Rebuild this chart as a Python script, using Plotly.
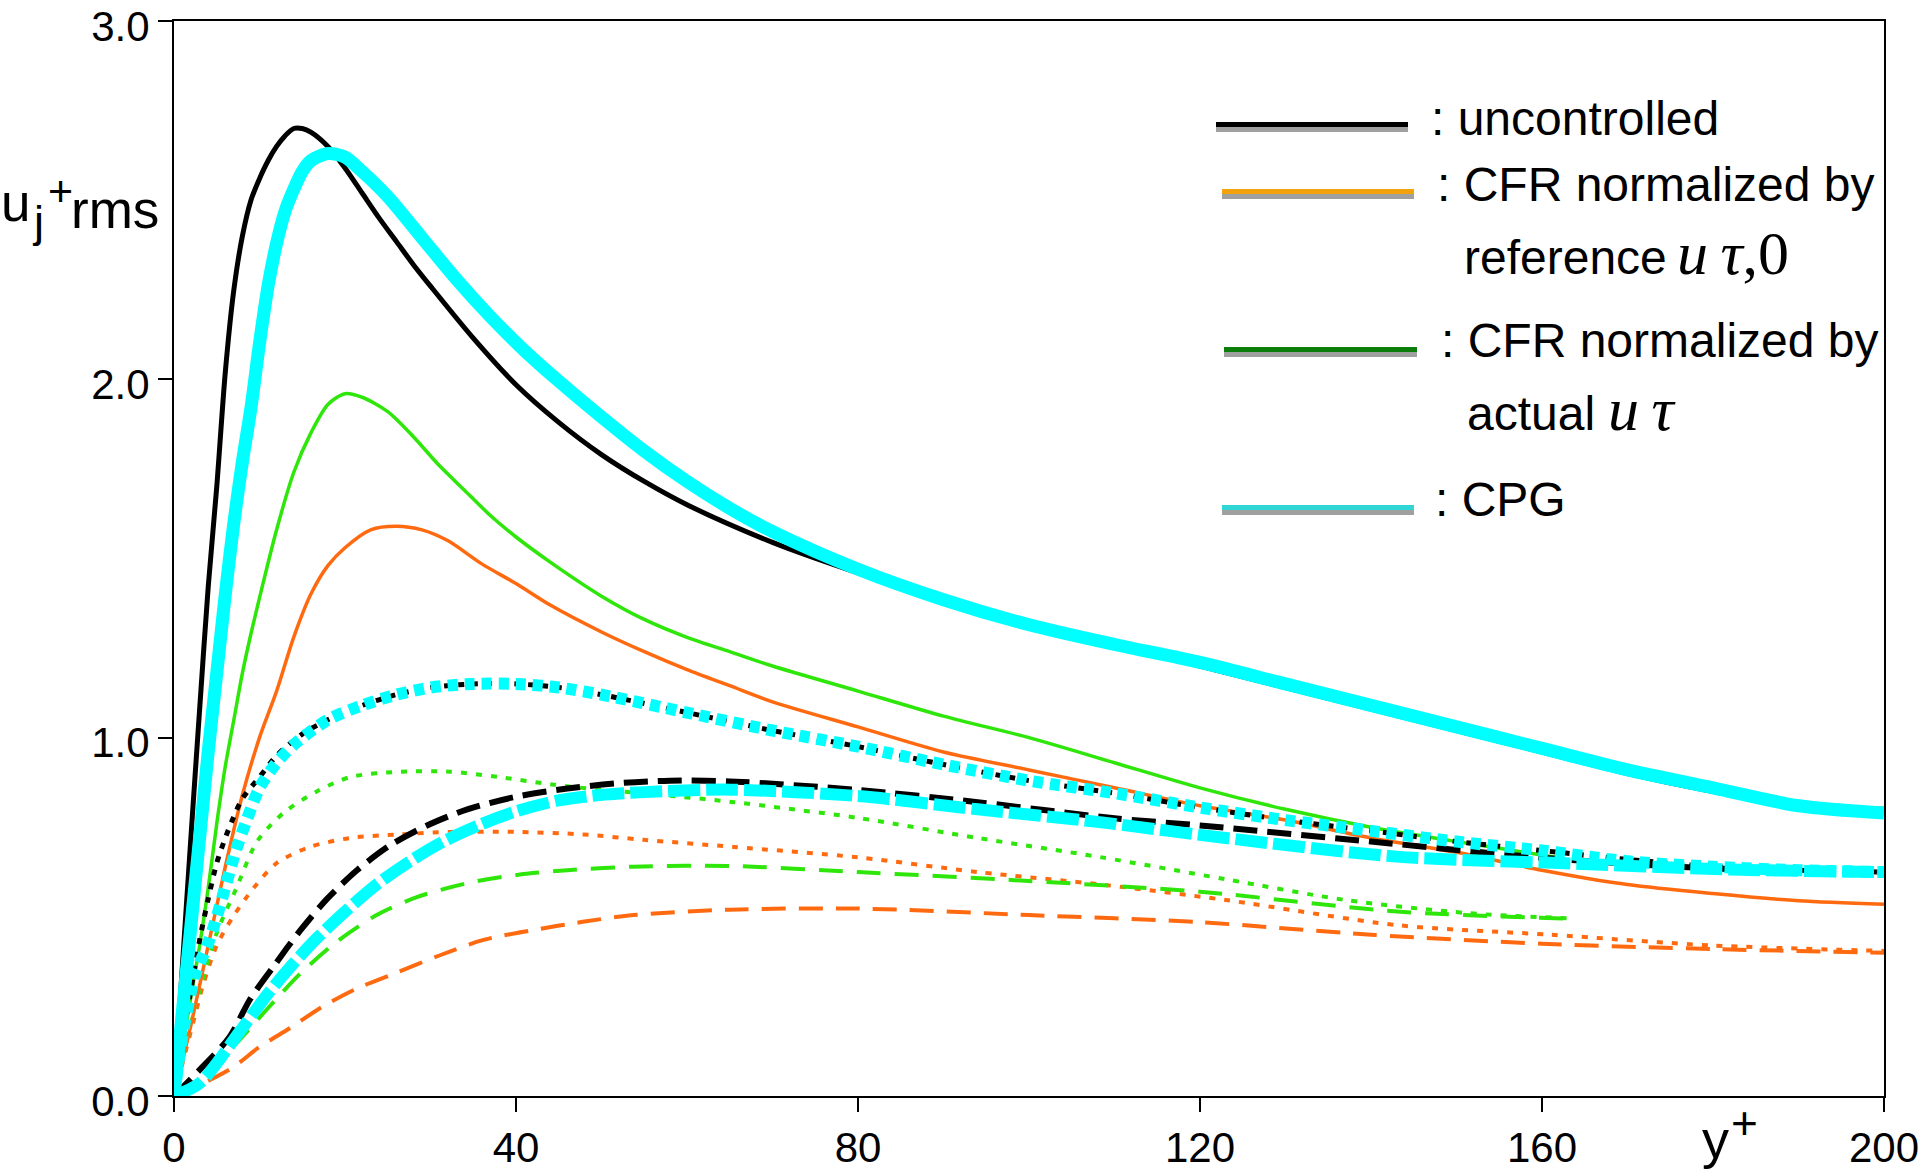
import plotly.graph_objects as go

# ---------------- data ----------------
# uncontrolled (black)
bk_solid_x = [0, 1, 2, 3, 4, 5, 6, 7, 8, 9, 10, 11, 12, 13, 14, 15, 16, 18, 20, 22, 24, 26, 28, 30, 35, 40, 45, 50, 55, 60, 70, 80, 90, 100, 110, 120, 130, 140, 150, 160, 170, 180, 190, 200]
bk_solid_y = [0, 0.37, 0.73, 1.08, 1.42, 1.70, 2.02, 2.25, 2.40, 2.50, 2.56, 2.61, 2.65, 2.68, 2.70, 2.70, 2.69, 2.65, 2.59, 2.52, 2.45, 2.385, 2.32, 2.26, 2.115, 1.985, 1.88, 1.79, 1.715, 1.65, 1.545, 1.46, 1.385, 1.315, 1.26, 1.20, 1.14, 1.08, 1.02, 0.96, 0.90, 0.85, 0.81, 0.80]

bk_dot_x = [0, 1, 2, 3, 4, 5, 6, 7, 8, 10, 12, 15, 18, 22, 26, 30, 35, 40, 45, 50, 60, 70, 80, 90, 100, 110, 120, 130, 140, 150, 160, 170, 180, 190, 200]
bk_dot_y = [0, 0.15, 0.30, 0.435, 0.55, 0.65, 0.72, 0.78, 0.83, 0.89, 0.95, 1.01, 1.05, 1.09, 1.12, 1.14, 1.15, 1.15, 1.14, 1.12, 1.07, 1.02, 0.975, 0.925, 0.88, 0.845, 0.805, 0.77, 0.74, 0.71, 0.685, 0.66, 0.64, 0.63, 0.625]

bk_dash_x = [0, 3, 6.5, 8.9, 11.6, 14.7, 17.9, 21.4, 25.3, 29.6, 34.3, 40, 46, 52, 58, 65, 80, 94, 110, 120, 140, 160, 180, 200]
bk_dash_y = [0, 0.073, 0.165, 0.27, 0.36, 0.46, 0.55, 0.63, 0.70, 0.755, 0.80, 0.835, 0.858, 0.873, 0.88, 0.878, 0.854, 0.82, 0.775, 0.755, 0.71, 0.665, 0.635, 0.625]

# CPG (cyan)
cy_solid_x = [0, 2, 4, 5, 6, 7, 8, 9, 10, 11, 12, 13, 14, 15, 16, 18, 20, 22, 25, 29, 33, 37, 41, 45, 50, 55, 60, 65, 70, 80, 90, 100, 110, 120, 130, 140, 150, 160, 170, 180, 190, 200]
cy_solid_y = [0, 0.48, 0.96, 1.18, 1.40, 1.60, 1.77, 1.92, 2.10, 2.26, 2.38, 2.47, 2.53, 2.58, 2.61, 2.63, 2.62, 2.58, 2.51, 2.395, 2.28, 2.175, 2.08, 1.995, 1.895, 1.80, 1.715, 1.64, 1.575, 1.47, 1.385, 1.315, 1.26, 1.21, 1.15, 1.09, 1.03, 0.97, 0.91, 0.86, 0.81, 0.79]

cy_dot_x = [0, 1, 2.5, 3.9, 5, 6.2, 7.3, 8.5, 10, 12, 14, 18, 22, 26, 30, 35, 40, 45, 50, 60, 70, 80, 90, 100, 110, 120, 130, 140, 150, 160, 170, 180, 190, 200]
cy_dot_y = [0, 0.17, 0.34, 0.42, 0.50, 0.60, 0.69, 0.77, 0.86, 0.93, 0.98, 1.05, 1.09, 1.12, 1.14, 1.15, 1.15, 1.14, 1.12, 1.07, 1.02, 0.975, 0.925, 0.88, 0.845, 0.805, 0.77, 0.74, 0.71, 0.685, 0.655, 0.64, 0.63, 0.625]

cy_dash_x = [0, 3, 7.7, 10.8, 13.6, 16.7, 19.8, 23.7, 27.6, 31.5, 36.1, 40.1, 45, 49.8, 55, 65, 80, 94, 108, 123, 143, 162, 182, 200]
cy_dash_y = [0, 0.036, 0.18, 0.28, 0.36, 0.44, 0.51, 0.59, 0.655, 0.71, 0.76, 0.795, 0.825, 0.84, 0.848, 0.855, 0.837, 0.80, 0.765, 0.72, 0.668, 0.65, 0.632, 0.625]

# CFR normalized by actual u_tau (green)
gr_solid_x = [0, 2, 3, 4, 5, 6, 7, 8, 9, 10, 12, 14, 16, 18, 20, 22, 25, 28, 31, 34, 37, 40, 44, 50, 55, 60, 65, 70, 80, 90, 100, 110, 120, 130, 140, 150, 162]
gr_solid_y = [0, 0.28, 0.42, 0.58, 0.76, 0.92, 1.05, 1.18, 1.29, 1.39, 1.58, 1.74, 1.85, 1.93, 1.96, 1.95, 1.91, 1.84, 1.76, 1.69, 1.62, 1.56, 1.49, 1.395, 1.33, 1.28, 1.24, 1.20, 1.13, 1.06, 1.00, 0.93, 0.86, 0.80, 0.75, 0.71, 0.665]

gr_dot_x = [0, 1, 2.5, 5, 7.3, 9.7, 12.8, 16.7, 20.6, 26.4, 32.3, 38, 44, 49.8, 57, 65.5, 80, 94, 108.5, 123, 137, 151.5, 163]
gr_dot_y = [0, 0.1, 0.25, 0.455, 0.58, 0.71, 0.79, 0.85, 0.89, 0.905, 0.905, 0.89, 0.87, 0.855, 0.84, 0.82, 0.776, 0.72, 0.666, 0.605, 0.547, 0.51, 0.496]

gr_dash_x = [0, 3, 6.9, 10.8, 14.7, 19, 23.7, 28.4, 34.3, 40.1, 46, 53.7, 65, 80, 100, 120, 143, 163]
gr_dash_y = [0, 0.05, 0.137, 0.24, 0.34, 0.43, 0.505, 0.555, 0.594, 0.617, 0.63, 0.64, 0.642, 0.625, 0.60, 0.57, 0.515, 0.495]

# CFR normalized by reference u_tau,0 (orange)
or_solid_x = [0, 2, 4, 6, 8, 10, 12, 14, 16, 18, 20, 23, 26, 29, 32, 36, 40, 44, 50, 55, 60, 65, 70, 80, 90, 100, 110, 120, 130, 140, 150, 160, 170, 180, 190, 200]
or_solid_y = [0, 0.2, 0.42, 0.64, 0.84, 1.0, 1.13, 1.28, 1.40, 1.48, 1.53, 1.58, 1.59, 1.58, 1.55, 1.485, 1.43, 1.37, 1.295, 1.24, 1.19, 1.145, 1.10, 1.03, 0.96, 0.91, 0.86, 0.81, 0.77, 0.72, 0.68, 0.63, 0.59, 0.565, 0.545, 0.535]

or_dot_x = [0, 2.3, 3.4, 5, 6.9, 9.3, 12, 15.9, 20.6, 26.4, 32.3, 40.1, 47.8, 54.9, 65.5, 80, 94, 108.5, 123, 143, 161, 180, 200]
or_dot_y = [0, 0.21, 0.31, 0.42, 0.50, 0.58, 0.65, 0.695, 0.72, 0.73, 0.737, 0.737, 0.73, 0.715, 0.695, 0.666, 0.625, 0.59, 0.547, 0.477, 0.45, 0.42, 0.405]

or_dash_x = [0, 4.2, 6.9, 10, 13.6, 17.4, 21.4, 25.6, 30.8, 36.1, 42, 47.8, 53.7, 65, 80, 100, 120, 140, 160, 180, 200]
or_dash_y = [0, 0.045, 0.08, 0.137, 0.19, 0.25, 0.30, 0.34, 0.39, 0.435, 0.463, 0.486, 0.505, 0.52, 0.523, 0.505, 0.485, 0.45, 0.425, 0.41, 0.40]

x_ticks = [0, 40, 80, 120, 160, 200]
y_ticks = [0.0, 1.0, 2.0, 3.0]

legend_labels = [": uncontrolled", ": CFR normalized by", ": CFR normalized by", ": CPG"]
legend_line_colors = ["#000000", "#F2A20C", "#0B7D0B", "#2ED6D6"]

# ---------------- styling ----------------
BLACK = "#000000"
CYAN = "#00FFFF"
GREEN = "#2EE60A"
ORANGE = "#FF6A10"
SANS = "Liberation Sans, Arial, sans-serif"
SERIF = "Liberation Serif, Times New Roman, serif"

W, H = 1920, 1171
L, R, T, B = 174, 1884, 21, 1096


def px(x):
    return (x - L) / (R - L)


def py(y):
    return (B - y) / (B - T)


fig = go.Figure()

series = [
    (or_dash_x, or_dash_y, ORANGE, 4, "24px,13px"),
    (or_dot_x, or_dot_y, ORANGE, 4, "6px,9px"),
    (gr_dash_x, gr_dash_y, GREEN, 4, "24px,14px"),
    (gr_dot_x, gr_dot_y, GREEN, 4, "6px,9px"),
    (or_solid_x, or_solid_y, ORANGE, 3.5, "solid"),
    (gr_solid_x, gr_solid_y, GREEN, 3.5, "solid"),
    (bk_dot_x, bk_dot_y, BLACK, 5, "6px,8px"),
    (bk_dash_x, bk_dash_y, BLACK, 6, "24px,10px"),
    (bk_solid_x, bk_solid_y, BLACK, 5, "solid"),
    (cy_dot_x, cy_dot_y, CYAN, 12, "10px,7px"),
    (cy_dash_x, cy_dash_y, CYAN, 12, "32px,6px"),
    (cy_solid_x, cy_solid_y, CYAN, 13, "solid"),
]
for xs, ys, col, w, dash in series:
    fig.add_trace(go.Scatter(x=xs, y=ys, mode="lines",
                             line=dict(color=col, width=w, dash=dash, shape="spline", smoothing=0.8),
                             hoverinfo="skip", showlegend=False))

axis_common = dict(showgrid=False, zeroline=False, showline=True, linecolor="black", linewidth=2,
                   mirror=True, ticks="outside", ticklen=14, tickwidth=2, tickcolor="black",
                   ticklabeloverflow="allow", automargin=False,
                   tickfont=dict(family=SANS, size=42, color="black"))
fig.update_xaxes(range=[0, 200], tickvals=x_ticks, ticktext=[str(v) for v in x_ticks], **axis_common)
fig.update_yaxes(range=[0, 3], tickvals=y_ticks, ticktext=["%.1f" % v for v in y_ticks],
                 ticklabelshift=5, **axis_common)

annotations = []


def add_text(text, x, baseline, size, family=SANS, xanchor="left", asc=0.3465):
    annotations.append(dict(text=text, x=px(x), y=py(baseline - asc * size), xref="paper", yref="paper",
                            xanchor=xanchor, yanchor="middle", showarrow=False,
                            font=dict(family=family, size=size, color="black"), borderpad=0))


# y-axis title u_j^+ rms
add_text("u", 0, 221, 53)
add_text("j", 31, 237, 45)
annotations.append(dict(text="+", x=px(47), y=py(191), xref="paper", yref="paper", xanchor="left",
                        yanchor="middle", showarrow=False, borderpad=0,
                        font=dict(family=SANS, size=43, color="black")))
add_text("rms", 70, 228, 53)

# x-axis title y^+
add_text("y", 1701, 1158, 54)
annotations.append(dict(text="+", x=px(1730), y=py(1123), xref="paper", yref="paper", xanchor="left",
                        yanchor="middle", showarrow=False, borderpad=0,
                        font=dict(family=SANS, size=46, color="black")))

# legend (drawn manually)
leg_rows = [(1216, 1408, 124.5, 1430, 135), (1222, 1414, 191.5, 1436, 201),
            (1224, 1417, 349.5, 1440, 357), (1222, 1414, 507.5, 1434, 516)]
shapes = []
for (x0, x1, yc, tx, tb), lab, col in zip(leg_rows, legend_labels, legend_line_colors):
    shapes.append(dict(type="line", xref="paper", yref="paper", x0=px(x0), x1=px(x1),
                       y0=py(yc + 5), y1=py(yc + 5), line=dict(color="#A0A0A0", width=5)))
    shapes.append(dict(type="line", xref="paper", yref="paper", x0=px(x0), x1=px(x1),
                       y0=py(yc), y1=py(yc), line=dict(color=col, width=5)))
    add_text(lab, tx, tb, 48)

add_text("reference", 1463, 274, 48)
add_text("<i>u\u2009τ</i>,0", 1676, 274, 62, family=SERIF, asc=0.3375)
add_text("actual", 1466, 430, 48)
add_text("<i>u\u2009τ</i>", 1607, 430, 62, family=SERIF, asc=0.3375)

fig.update_layout(width=W, height=H, margin=dict(l=L, r=W - R, t=T, b=H - B, pad=0, autoexpand=False),
                  plot_bgcolor="white", paper_bgcolor="white", showlegend=False,
                  annotations=annotations, shapes=shapes)

fig.write_html("out.html", config={"displayModeBar": False},
               post_script="document.body.style.margin='0';document.body.style.overflow='hidden';"
                           "document.documentElement.style.overflow='hidden';")
